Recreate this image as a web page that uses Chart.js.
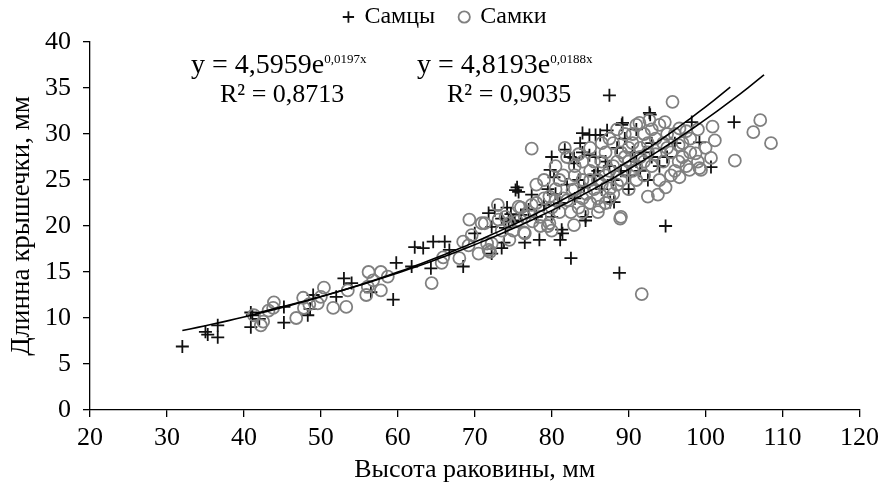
<!DOCTYPE html>
<html>
<head>
<meta charset="utf-8">
<script src="https://cdn.jsdelivr.net/npm/chart.js@4.4.0/dist/chart.umd.min.js"></script>
<style>
  html, body { margin: 0; padding: 0; background: #fff; }
  #wrap { width: 885px; height: 492px; }
</style>
</head>
<body>
<div id="wrap"><canvas id="grafico" width="885" height="492"></canvas></div>
<script>
// Данные: высота раковины (x) и длина крышечки (y), мм
const samcy = [
  [32,6.9],[35,8.5],[35.3,8.2],[36.6,7.9],[36.6,9.2],
  [40.9,9.0],[40.9,10.6],[41.1,10.3],[42,9.9],[45.2,9.5],[45.2,11.2],[48.3,10.3],[48.6,11],[49,12.5],
  [52,12.3],[53,14.3],[54,13.8],[56.5,12.8],[59.4,12],[59.8,16],[61.8,15.6],[62.2,17.7],[63.3,17.6],
  [64.6,18.3],[66.1,18.3],[66.7,17.4],[64.3,15.4],[68.5,15.6],[70,19.2],[71.8,21.4],[72.2,19.9],
  [72.2,17],[72.6,21.7],[73.5,17.6],[73.8,18.2],[74.2,22],[74.4,20.5],[75.5,24.2],[75.7,23.7],
  [75.3,23.9],[76.5,18.2],[77.4,23.4],[78.4,18.5],[78,21],[79,22.3],[79.8,26.1],[80,27.5],
  [80.3,25.3],[80.5,23.5],[81.1,18.5],[81.4,19.2],[81.3,19.6],[81.7,28.3],[82.4,27.5],[82.5,16.5],
  [82.9,27.4],[82.9,26.8],[83,23],[83.7,29],[84,30.1],[84,28],[84.2,24.2],[84.4,21],[84.4,20.6],
  [84.9,29.9],[84.9,27.7],[85.7,29.9],[85.7,27.5],[86,26],[86.3,29.9],[87,27],[87.2,30.4],
  [87.5,34.2],[87.6,22.6],[88,25],[88.1,22.6],[88.8,14.9],[89,26],[89.1,31],[89.2,31.2],[90,25.5],
  [90,24],[91,27],[91,30.5],[92,28],[92.7,32.3],[92.8,32.1],[93,27.5],[93,29],[94,26.5],[94.8,20],
  [95,27.5],[96,29],[98.2,31.3],[99.2,29.1],[100.7,26.4],[103.7,31.3],
  [86.5,24],[88.5,28.5],[89.5,29.5],[90.5,28],[91.5,26],[92.5,25],[87.5,26.5],[85.5,25.5],
  [83.5,25],[82,24.5],[81,22.5],[80,21],[79.5,24],[77,21.8],[76,21.2],[75,20.5],[73.5,20.8],
  [74.7,21.3],[74,19.8],[75.2,20.6]
];

const samki = [
  [42.2,9.2],[41.3,10.3],[42.5,9.6],[43.2,10.8],[43.8,11.1],[43.9,11.7],[46.8,10],[47.8,11.1],
  [47.7,12.2],[48.5,11.5],[49.6,11.6],[50,12.3],[50.4,13.3],[51.6,11.1],[53.3,11.2],[53.5,13],
  [55.9,12.5],[56.1,13.4],[56.2,15],[56.8,14.1],[57.8,13],[57.8,15],[58.7,14.5],[64.4,13.8],
  [65.7,16],[65.9,16.6],[68,16.5],[68.5,18.3],[69.2,17.9],[69.3,20.7],[69.6,19],[70.5,17],
  [70.9,20.3],[71.3,20.3],[71.6,18.1],[71.8,17.4],[72,17.2],[72.2,18.1],[73,22.3],[73.1,20.7],
  [74,21],[74.5,18.5],[75,19.5],[75.7,22.1],[76,22],[76.4,19.3],[76.5,19.2],[77,21.5],[77.4,22.3],
  [77.4,28.4],[78,22.5],[78,24.5],[78.5,21],[79,23],[79,25],[79.5,20],[79.7,20.3],[79.7,23.2],
  [80,22],[80,19.5],[80.5,24],[80.5,26.5],[81,21.5],[81,25],[81.5,23],[81.5,25.5],[81.7,28.5],
  [82,22.8],[82,27.5],[82.7,23.9],[82.9,20.1],[83,24],[83,26.5],[83.5,22],[84,23],[84,25],[84,27],
  [84,21.5],[84.5,23.5],[85,26],[85,28.5],[85,22.5],[85.5,24],[86,25],[86,21.5],[86,23],[86.2,22.1],
  [86.5,27],[86.5,24.5],[87,25.5],[87,28],[87.5,23],[87.5,26],[87.6,24.1],[88,26.5],[88,29],
  [88.5,24.5],[88.5,27],[88.9,20.8],[89,28],[89,21],[89.5,26],[89.5,30],[90,27],[90,24],[90,28.5],
  [90.5,29],[90.5,26],[91,25],[91,31],[91.4,31.2],[91.5,27.5],[91.5,28.5],[91.7,12.6],[92,30],
  [92,25.5],[92,27],[92.5,28],[92.5,23.2],[92.7,31.5],[93,26.5],[93,30.5],[93.5,29.5],[93.8,23.4],
  [94,31],[94,25],[94.5,27],[94.7,31.3],[94.8,24.2],[95,28.5],[95,30],[95.5,25.5],[95.7,33.5],
  [96,30],[96,26],[96.5,27],[96.6,25.3],[96.6,30.6],[97,29],[97,27.5],[97.5,26.5],[97.9,26.1],
  [98,28],[98,29.5],[98.7,27.9],[99,30.5],[99,27],[99.2,26.3],[99.4,26.1],[100,28.5],[100.7,27.4],
  [100.9,30.8],[101.2,29.3],[103.8,27.1],[106.2,30.2],[107.1,31.5],[108.5,29],
  [83.5,27.8],[85.5,27],[86.5,29],[87.5,29.5],[88.5,30.5],[89,25],[90.5,30],[92.5,29],[93.5,27.8],
  [94.5,29],[95.5,28],[96.5,28.8],[97.5,30.3],[91,26.5],[89.5,27.5],[88,23.5],[87,22.5],[85,25],
  [83,25.5],[82.5,21.5],[80.5,22.8],[78.5,20],[77.5,20.5],[76.5,21],[75.5,20.5],[74.5,20.3],[73.5,19.5]
];

// Линии тренда (экспонента): y = a * e^(b*x)
const trendSamcy = { a: 4.5959, b: 0.0197, from: 32, to: 103.2 };
const trendSamki = { a: 4.8193, b: 0.0188, from: 41.5, to: 107.6 };

const xTicks = [20, 30, 40, 50, 60, 70, 80, 90, 100, 110, 120];
const yTicks = [0, 5, 10, 15, 20, 25, 30, 35, 40];

(function() {
    'use strict';

    var SERIF = "'Liberation Serif', 'DejaVu Serif', serif";

    function curva(t) {
        var pts = [];
        for (var x = t.from; x < t.to; x += 1) pts.push({ x: x, y: t.a * Math.exp(t.b * x) });
        pts.push({ x: t.to, y: t.a * Math.exp(t.b * t.to) });
        return pts;
    }

    function aPuntos(arr) {
        return arr.map(function(p) { return { x: p[0], y: p[1] }; });
    }

    // Уравнения тренда поверх графика
    var ecuaciones = {
        id: 'ecuaciones',
        afterDatasetsDraw: function(chart) {
            var ctx = chart.ctx;
            ctx.save();
            ctx.fillStyle = '#000';
            ctx.textBaseline = 'alphabetic';
            ctx.textAlign = 'left';
            function eq(x, y, base, sup) {
                ctx.font = '28px ' + SERIF;
                ctx.fillText(base, x, y);
                var w = ctx.measureText(base).width;
                ctx.font = '13px ' + SERIF;
                ctx.fillText(sup, x + w, y - 10);
            }
            eq(191, 73, 'y = 4,5959e', '0,0197x');
            eq(417, 73, 'y = 4,8193e', '0,0188x');
            ctx.font = '26px ' + SERIF;
            ctx.fillText('R² = 0,8713', 220, 102);
            ctx.fillText('R² = 0,9035', 447, 102);
            ctx.restore();
        }
    };

    // Сдвиг легенды (низ рамки оставляем, чтобы текст не обрезался)
    var leyenda = {
        id: 'leyenda',
        afterLayout: function(chart) {
            var lg = chart.legend;
            if (!lg) return;
            lg.left += 11; lg.right += 11;
            lg.top -= 20;
        }
    };

    var ctx = document.getElementById('grafico');
    new Chart(ctx, {
        type: 'scatter',
        data: {
            datasets: [
                {
                    label: 'trendM',
                    data: curva(trendSamcy),
                    showLine: true,
                    borderColor: '#000',
                    borderWidth: 1.6,
                    pointRadius: 0,
                    tension: 0
                },
                {
                    label: 'trendF',
                    data: curva(trendSamki),
                    showLine: true,
                    borderColor: '#000',
                    borderWidth: 1.6,
                    pointRadius: 0,
                    tension: 0
                },
                {
                    label: 'Самки',
                    data: aPuntos(samki),
                    pointStyle: 'circle',
                    pointRadius: 6,
                    pointBorderWidth: 1.8,
                    borderColor: '#808080',
                    backgroundColor: 'rgba(0,0,0,0)',
                    pointBackgroundColor: 'rgba(0,0,0,0)',
                    pointBorderColor: '#808080',
                    borderWidth: 1.8
                },
                {
                    label: 'Самцы',
                    data: aPuntos(samcy),
                    pointStyle: 'cross',
                    pointRadius: 6.5,
                    pointBorderWidth: 1.8,
                    borderColor: '#111',
                    pointBorderColor: '#111',
                    backgroundColor: '#111',
                    borderWidth: 1.8
                }
            ]
        },
        options: {
            responsive: false,
            animation: false,
            layout: { padding: { left: 6, right: 22, top: 0, bottom: 2 } },
            plugins: {
                legend: {
                    position: 'top',
                    maxHeight: 42,
                    labels: {
                        usePointStyle: true,
                        boxWidth: 8,
                        boxHeight: 8,
                        padding: 25,
                        color: '#000',
                        font: { family: SERIF, size: 24 },
                        filter: function(item) { return item.text === 'Самцы' || item.text === 'Самки'; },
                        sort: function(a, b) { return b.datasetIndex - a.datasetIndex; }
                    }
                },
                tooltip: { enabled: false }
            },
            scales: {
                x: {
                    type: 'linear',
                    min: 20,
                    max: 120,
                    afterBuildTicks: function(s) { s.ticks = xTicks.map(function(v) { return { value: v }; }); },
                    afterFit: function(s) { s.height = 80; },
                    grid: { drawOnChartArea: false, drawTicks: true, tickLength: 7, color: '#000', lineWidth: 1.3 },
                    border: { display: true, color: '#000', width: 1.3 },
                    ticks: { color: '#000', font: { family: SERIF, size: 26 }, padding: 6, maxRotation: 0 },
                    title: { display: true, text: 'Высота раковины, мм', color: '#000', font: { family: SERIF, size: 26 }, padding: { top: 0, bottom: 4 } }
                },
                y: {
                    type: 'linear',
                    min: 0,
                    max: 40,
                    afterBuildTicks: function(s) { s.ticks = yTicks.map(function(v) { return { value: v }; }); },
                    afterFit: function(s) { s.width = 84; },
                    grid: { drawOnChartArea: false, drawTicks: true, tickLength: 7, color: '#000', lineWidth: 1.3 },
                    border: { display: true, color: '#000', width: 1.3 },
                    ticks: { color: '#000', font: { family: SERIF, size: 26 }, padding: 12 },
                    title: { display: true, text: 'Длинна крышечки, мм', color: '#000', font: { family: SERIF, size: 27 }, padding: { top: 0, bottom: 0 } }
                }
            }
        },
        plugins: [ecuaciones, leyenda]
    });
})();
</script>
</body>
</html>
